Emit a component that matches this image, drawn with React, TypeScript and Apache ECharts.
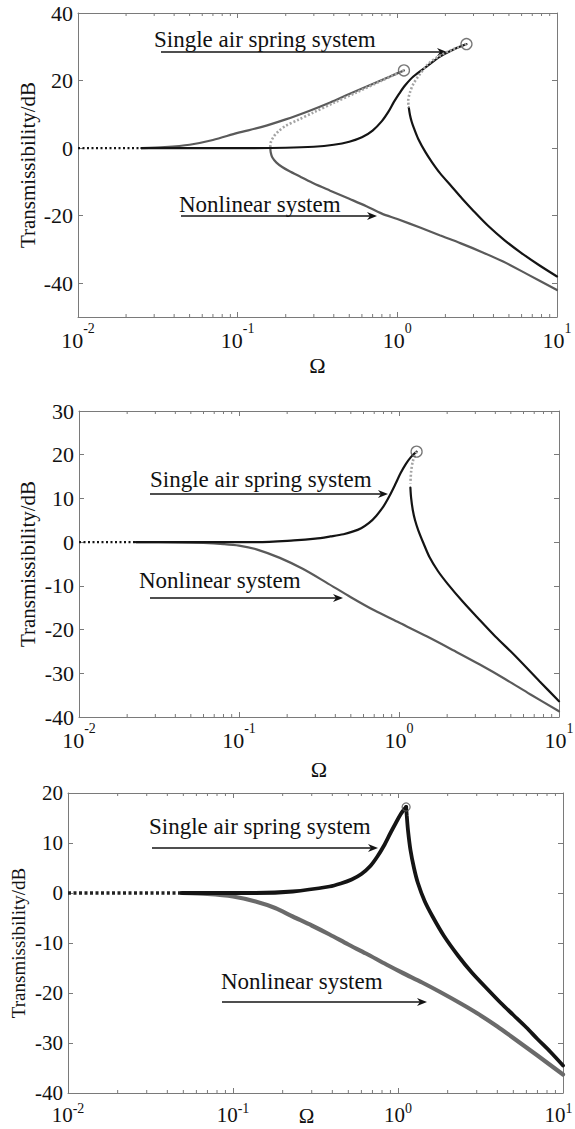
import React, { useEffect, useRef } from 'react';
import * as echarts from 'echarts';

const FONT = 'Liberation Serif, Times New Roman, serif';

// ---------- axes ----------
const X_MIN = 0.01;
const X_MAX = 10;
const X_MAJOR = [0.01, 0.1, 1, 10];
const X_MINOR = [0.02, 0.03, 0.04, 0.05, 0.06, 0.07, 0.08, 0.09, 0.2, 0.3, 0.4, 0.5, 0.6, 0.7, 0.8, 0.9, 2, 3, 4, 5, 6, 7, 8, 9];
const Y_RANGES = [[-50, 40], [-40, 30], [-40, 20]];
const Y_TICKS = [
  [-40, -20, 0, 20, 40],
  [-40, -30, -20, -10, 0, 10, 20, 30],
  [-40, -30, -20, -10, 0, 10, 20],
];

// ---------- panel 1 ----------
const P1_START = [[0.01, 0], [0.025, 0]];
const P1_SINGLE_UPPER = [[0.025, 0], [0.1, 0], [0.2, 0.1], [0.3, 0.4], [0.4, 1.0], [0.5, 1.9], [0.6, 3.2], [0.7, 5.2], [0.8, 8.0], [0.88, 10.8], [0.95, 13.6], [1.03, 16.2], [1.12, 18.6], [1.26, 21.2], [1.53, 24.2], [1.85, 27.1], [2.2, 29.0], [2.71, 30.8]];
const P1_SINGLE_UNSTABLE = [[2.71, 30.8], [2.2, 29.1], [1.85, 27.4], [1.55, 24.8], [1.38, 21.8], [1.26, 19.0], [1.2, 16.5], [1.17, 14.0], [1.18, 12.0]];
const P1_SINGLE_LOWER = [[1.18, 12.0], [1.2, 9.8], [1.23, 7.8], [1.27, 5.9], [1.35, 2.8], [1.5, -1.2], [1.65, -4.2], [1.85, -7.4], [2.2, -11.5], [2.55, -15.0], [3.0, -18.6], [3.7, -23.0], [4.7, -27.3], [5.96, -31.0], [7.7, -34.6], [10, -38.0]];
const P1_NONLIN_UPPER = [[0.025, 0], [0.035, 0.3], [0.05, 1.0], [0.07, 2.4], [0.1, 4.5], [0.14, 6.2], [0.2, 8.5], [0.28, 11.0], [0.38, 13.5], [0.5, 16.0], [0.7, 19.0], [0.9, 21.2], [1.1, 23.0]];
const P1_NONLIN_UNSTABLE = [[1.1, 23.0], [0.8, 20.0], [0.55, 16.4], [0.4, 13.4], [0.3, 10.6], [0.24, 8.4], [0.2, 6.6], [0.18, 5.0], [0.167, 3.2], [0.161, 1.6], [0.16, 0.3]];
const P1_NONLIN_LOWER = [[0.16, 0.3], [0.161, -1.2], [0.165, -2.8], [0.175, -4.3], [0.19, -5.6], [0.21, -6.8], [0.25, -8.6], [0.3, -10.5], [0.38, -12.6], [0.5, -15.0], [0.64, -17.2], [0.8, -19.4], [1.0, -21.0], [1.4, -23.6], [1.84, -25.8], [2.5, -28.2], [3.4, -30.8], [4.6, -33.6], [6.5, -37.3], [10, -42.0]];
const P1_JUMPS = [[1.1, 23.0], [2.71, 30.8]];

// ---------- panel 2 ----------
const P2_START = [[0.01, 0], [0.0227, 0]];
const P2_SINGLE_UPPER = [[0.0227, 0], [0.13, 0.0], [0.22, 0.4], [0.3, 0.8], [0.373, 1.3], [0.45, 1.8], [0.512, 2.4], [0.58, 3.2], [0.65, 4.4], [0.72, 6.0], [0.8, 8.2], [0.87, 10.5], [0.95, 13.3], [1.02, 15.7], [1.1, 17.8], [1.19, 19.5], [1.288, 20.7]];
const P2_SINGLE_UNSTABLE = [[1.288, 20.7], [1.22, 18.5], [1.19, 16.0], [1.178, 13.4]];
const P2_SINGLE_LOWER = [[1.178, 12.5], [1.19, 10.2], [1.22, 7.3], [1.26, 5.0], [1.32, 2.7], [1.42, -0.2], [1.55, -3.4], [1.75, -6.6], [2.02, -9.6], [2.5, -13.6], [3.08, -17.2], [4.0, -21.6], [5.22, -25.7], [7.55, -31.8], [10, -36.4]];
const P2_NONLIN = [[0.0227, 0], [0.04, -0.05], [0.06, -0.2], [0.08, -0.45], [0.1, -0.8], [0.13, -1.7], [0.18, -3.6], [0.25, -6.1], [0.35, -9.2], [0.5, -12.6], [0.7, -15.6], [1.0, -18.4], [1.5, -21.6], [2.2, -24.8], [3.2, -28.0], [4.6, -31.3], [6.6, -34.8], [10, -38.7]];
const P2_JUMPS = [[1.288, 20.7]];

// ---------- panel 3 ----------
const P3_START = [[0.01, 0], [0.05, 0]];
const P3_SINGLE_RISE = [[0.049, 0], [0.137, 0], [0.23, 0.3], [0.385, 1.3], [0.45, 1.9], [0.524, 2.7], [0.6, 3.8], [0.68, 5.4], [0.75, 7.3], [0.82, 9.4], [0.9, 12.0], [0.97, 14.0], [1.04, 15.8], [1.1, 16.9], [1.12, 17.2]];
const P3_SINGLE_FALL = [[1.12, 17.2], [1.13, 15.5], [1.15, 12.5], [1.19, 8.6], [1.25, 5.0], [1.32, 2.0], [1.45, -1.6], [1.62, -4.7], [1.9, -8.6], [2.32, -12.6], [2.8, -15.9], [3.5, -19.3], [4.2, -22.0], [5.0, -24.4], [6.0, -26.9], [7.0, -29.2], [8.4, -31.8], [10, -34.5]];
const P3_NONLIN = [[0.049, 0], [0.07, -0.2], [0.1, -0.7], [0.137, -1.7], [0.18, -3.0], [0.23, -4.7], [0.3, -6.5], [0.385, -8.3], [0.5, -10.3], [0.64, -12.1], [0.85, -14.3], [1.07, -16.0], [1.4, -17.9], [1.8, -19.8], [2.4, -22.1], [3.0, -24.0], [4.0, -26.7], [5.0, -29.0], [7.0, -32.5], [10, -36.3]];
const P3_JUMPS = [[1.12, 17.2]];

const LABEL_SINGLE = 'Single air spring system';
const LABEL_NONLIN = 'Nonlinear system';
const Y_NAME = 'Transmissibility/dB';
const X_NAME = 'Ω';

const GRIDS = [
  { left: 78, top: 13, width: 479, height: 304 },
  { left: 79, top: 411, width: 480, height: 306 },
  { left: 68, top: 793, width: 495, height: 300 },
];

const FRAME = '#7a7a7a';
const BLACK = '#141414';
const GRAY = '#5a5a5a';
const LIGHT = '#a4a4a4';

function lineSeries(i: number, data: number[][], color: string, width: number, type: any = 'solid', z = 3, smooth: any = 0.3, cap = 'round') {
  return {
    type: 'line', xAxisIndex: i, yAxisIndex: i, data, showSymbol: false, symbol: 'none',
    smooth, lineStyle: { color, width, type, cap }, z, silent: true, clip: false,
  };
}

function jumpSeries(i: number, data: number[][], size: number) {
  return {
    type: 'scatter', xAxisIndex: i, yAxisIndex: i, data, symbol: 'circle', symbolSize: size,
    itemStyle: { color: 'rgba(255,255,255,0)', borderColor: '#555', borderWidth: 1.3 }, z: 6, silent: true,
  };
}

function minorTicks(i: number) {
  const [yMin, yMax] = Y_RANGES[i];
  return {
    type: 'custom', xAxisIndex: i, yAxisIndex: i, silent: true, clip: false, z: 2,
    data: X_MINOR.map((v) => [v, yMin]),
    encode: { x: 0, y: 1 },
    renderItem: (_p: any, api: any) => {
      const v = api.value(0);
      const b = api.coord([v, yMin]);
      const t = api.coord([v, yMax]);
      const st = { stroke: FRAME, lineWidth: 1 };
      return {
        type: 'group',
        children: [
          { type: 'line', shape: { x1: b[0], y1: b[1], x2: b[0], y2: b[1] - 3 }, style: st },
          { type: 'line', shape: { x1: t[0], y1: t[1], x2: t[0], y2: t[1] + 3 }, style: st },
        ],
      };
    },
  };
}

function arrow(x1: number, x2: number, y: number) {
  return {
    type: 'group',
    children: [
      { type: 'line', shape: { x1, y1: y, x2: x2 - 6, y2: y }, style: { stroke: BLACK, lineWidth: 1.6 } },
      { type: 'polygon', shape: { points: [[x2, y], [x2 - 10, y - 4], [x2 - 7, y], [x2 - 10, y + 4]] }, style: { fill: BLACK } },
    ],
  };
}

function label(text: string, x: number, y: number, size = 23) {
  return { type: 'text', x, y, style: { text, fontSize: size, fontFamily: FONT, fill: '#111', align: 'left', verticalAlign: 'middle' } };
}

const TICK_FONT = [22, 22, 21];
const NAME_FONT = [21, 21, 19];
const X_NAME_GAP = [37, 41, 14];
const X_NAME_LH = [22, 22, 18];
const X_NAME_SIZE = [22, 22, 21];
const Y_NAME_GAP = [40, 41, 40];
const X_LABEL_MARGIN = [4, 4, 8];
const X_LABEL_LH = [30, 30, 24];
const X_SUP_LH = [14, 14, 12];
const X_LAST_PAD = [0, 0, 9];

export default function App() {
  const ref = useRef<HTMLDivElement>(null);
  useEffect(() => {
    if (!ref.current) return;
    const chart = echarts.init(ref.current, null, { renderer: 'svg' });

    const xAxes: any[] = [];
    const yAxes: any[] = [];
    [0, 1, 2].forEach((i) => {
      xAxes.push({
        type: 'log', logBase: 10, gridIndex: i, min: X_MIN, max: X_MAX, position: 'bottom',
        name: X_NAME, nameLocation: 'middle', nameGap: X_NAME_GAP[i], nameMoveOverlap: false,
        nameTextStyle: { fontFamily: FONT, fontSize: X_NAME_SIZE[i], lineHeight: X_NAME_LH[i], color: '#111', padding: i === 2 ? [0, 18, 0, 0] : 0 },
        axisLine: { show: true, onZero: false, lineStyle: { color: FRAME, width: 1 } },
        axisTick: { show: true, inside: true, length: 5, lineStyle: { color: FRAME }, customValues: X_MAJOR },
        splitLine: { show: false },
        axisLabel: {
          customValues: X_MAJOR,
          margin: X_LABEL_MARGIN[i],
          formatter: (v: number) => {
            const e = Math.round(Math.log10(v));
            return v >= X_MAX ? `{b|10}{t|${e}}` : `{b|10}{s|${e}}`;
          },
          rich: {
            b: { fontFamily: FONT, fontSize: TICK_FONT[i], color: '#111', lineHeight: X_LABEL_LH[i], verticalAlign: 'bottom' },
            s: { fontFamily: FONT, fontSize: 14, color: '#111', lineHeight: X_SUP_LH[i], verticalAlign: 'top' },
            t: { fontFamily: FONT, fontSize: 14, color: '#111', lineHeight: X_SUP_LH[i], verticalAlign: 'top', padding: [0, X_LAST_PAD[i], 0, 0] },
          },
        },
      });
    });
    [0, 1, 2].forEach((i) => {
      xAxes.push({
        type: 'log', logBase: 10, gridIndex: i, min: X_MIN, max: X_MAX, position: 'top',
        axisLine: { show: true, onZero: false, lineStyle: { color: FRAME, width: 1 } },
        axisTick: { show: true, inside: true, length: 5, lineStyle: { color: FRAME }, customValues: X_MAJOR },
        axisLabel: { show: false }, splitLine: { show: false },
      });
    });
    [0, 1, 2].forEach((i) => {
      yAxes.push({
        type: 'value', gridIndex: i, min: Y_RANGES[i][0], max: Y_RANGES[i][1], interval: 10, position: 'left',
        name: Y_NAME, nameLocation: 'middle', nameGap: Y_NAME_GAP[i], nameMoveOverlap: false,
        nameTextStyle: { fontFamily: FONT, fontSize: NAME_FONT[i], color: '#111' },
        axisLine: { show: true, onZero: false, lineStyle: { color: FRAME, width: 1 } },
        axisTick: { show: true, inside: true, length: 5, lineStyle: { color: FRAME }, customValues: Y_TICKS[i] },
        axisLabel: { customValues: Y_TICKS[i], fontFamily: FONT, fontSize: TICK_FONT[i], color: '#111', margin: 5 },
        splitLine: { show: false },
      });
    });
    [0, 1, 2].forEach((i) => {
      yAxes.push({
        type: 'value', gridIndex: i, min: Y_RANGES[i][0], max: Y_RANGES[i][1], interval: 10, position: 'right',
        axisLine: { show: true, onZero: false, lineStyle: { color: FRAME, width: 1 } },
        axisTick: { show: true, inside: true, length: 5, lineStyle: { color: FRAME }, customValues: Y_TICKS[i] },
        axisLabel: { show: false }, splitLine: { show: false },
      });
    });

    const series: any[] = [
      minorTicks(0), minorTicks(1), minorTicks(2),
      // panel 1
      lineSeries(0, P1_START, BLACK, 2.2, [2, 2.5], 4, false, 'butt'),
      lineSeries(0, P1_NONLIN_UPPER, GRAY, 2.2, 'solid', 3),
      lineSeries(0, P1_NONLIN_LOWER, GRAY, 2.2, 'solid', 3),
      lineSeries(0, P1_SINGLE_UPPER, BLACK, 2.2, 'solid', 4),
      lineSeries(0, P1_SINGLE_LOWER, BLACK, 2.2, 'solid', 4),
      lineSeries(0, P1_NONLIN_UNSTABLE, LIGHT, 2.6, [2, 2], 5, 0.3, 'butt'),
      lineSeries(0, P1_SINGLE_UNSTABLE, LIGHT, 2.6, [2, 2], 5, 0.3, 'butt'),
      jumpSeries(0, P1_JUMPS, 11),
      // panel 2
      lineSeries(1, P2_START, BLACK, 2.2, [2, 2.5], 4, false, 'butt'),
      lineSeries(1, P2_NONLIN, GRAY, 2.2, 'solid', 3),
      lineSeries(1, P2_SINGLE_UPPER, BLACK, 2.2, 'solid', 4),
      lineSeries(1, P2_SINGLE_LOWER, BLACK, 2.2, 'solid', 4),
      lineSeries(1, P2_SINGLE_UNSTABLE, LIGHT, 2.6, [2, 2], 5, 0.3, 'butt'),
      jumpSeries(1, P2_JUMPS, 11),
      // panel 3
      lineSeries(2, P3_START, '#222', 3.5, [3, 2.5], 4, false, 'butt'),
      lineSeries(2, P3_NONLIN, '#6a6a6a', 4.2, 'solid', 3),
      lineSeries(2, P3_SINGLE_RISE, BLACK, 3.8, 'solid', 4),
      lineSeries(2, P3_SINGLE_FALL, BLACK, 3.8, 'solid', 4),
      jumpSeries(2, P3_JUMPS, 8),
    ];

    const graphic: any[] = [
      label(LABEL_SINGLE, 154, 39), arrow(161, 447, 52),
      label(LABEL_NONLIN, 179, 204), arrow(181, 377, 216),
      label(LABEL_SINGLE, 150, 479), arrow(150, 388, 494),
      label(LABEL_NONLIN, 139, 580), arrow(150, 343, 598),
      label(LABEL_SINGLE, 149, 826), arrow(152, 378, 848),
      label(LABEL_NONLIN, 221, 981), arrow(222, 427, 1002),
    ];

    chart.setOption({
      animation: false,
      backgroundColor: '#ffffff',
      textStyle: { fontFamily: FONT },
      grid: GRIDS.map((g) => ({ ...g, containLabel: false, outerBoundsMode: 'none' })),
      xAxis: xAxes,
      yAxis: yAxes,
      series,
      graphic,
    });
    return () => chart.dispose();
  }, []);

  return <div ref={ref} style={{ position: 'absolute', left: 0, top: 0, width: 575, height: 1129 }} />;
}
